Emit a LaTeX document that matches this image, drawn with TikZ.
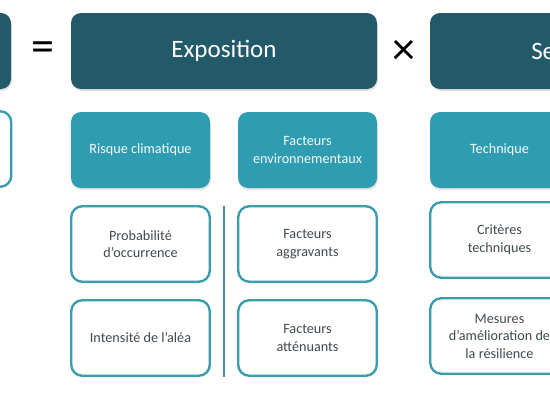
\documentclass[tikz,border=0pt]{standalone}
\usepackage{fontspec}
\setmainfont{Carlito}
\usetikzlibrary{shadows}
\definecolor{darkteal}{HTML}{235A69}
\definecolor{midteal}{HTML}{2E9DB1}
\definecolor{linecol}{HTML}{3A9DAE}
\definecolor{txtgray}{HTML}{3F4A4F}
\definecolor{sepcol}{HTML}{4A8E9A}
\tikzset{
  shad/.style={drop shadow={opacity=0.22, shadow xshift=0.8pt, shadow yshift=-2pt}},
  darkbox/.style={shad, fill=darkteal, rounded corners=10pt, text=white, minimum width=306pt, minimum height=76pt, inner sep=0pt, font=\fontsize{25}{28}\selectfont},
  tealbox/.style={shad, fill=midteal, rounded corners=10pt, text=white!95!midteal, minimum width=139pt, minimum height=76pt, inner sep=0pt, align=center, font=\fontsize{14.2}{18}\selectfont},
  outbox/.style={draw=linecol, line width=2.4pt, fill=white, rounded corners=11pt, text=txtgray, minimum width=138.5pt, minimum height=75.5pt, inner sep=0pt, align=center, font=\fontsize{14.2}{17.5}\selectfont},
  opsym/.style={font=\fontsize{46}{46}\selectfont, text=black, inner sep=0pt}
}
\begin{document}
\begin{tikzpicture}[x=1pt,y=-1pt]
\useasboundingbox (0,0) rectangle (550,400);
\clip (0,0) rectangle (550,400);
% top row
\node[darkbox] (risk) at (-142,51) {};
\node[opsym] (eq) at (43,52) {=};
\node[darkbox] (expo) at (224,51) {Exposition};
\node[opsym] (times) at (404,52) {×};
\node[darkbox] (sens) at (583,51) {Sensibilité};
% second row
\node[outbox] (leftout) at (-58,149) {};
\node[tealbox] (clim) at (140.5,150) {Risque climatique};
\node[tealbox] (envi) at (307.5,150) {Facteurs\\environnementaux};
\node[tealbox] (tech) at (499.5,150) {Technique};
% third row
\node[outbox] (prob) at (140.5,244) {Probabilité\\d’occurrence};
\node[outbox] (inten) at (140.5,338) {Intensité de l’aléa};
\node[outbox] (aggr) at (307.5,244) {Facteurs\\aggravants};
\node[outbox] (atten) at (307.5,338) {Facteurs\\atténuants};
\node[outbox] (crit) at (499.5,240) {Critères\\techniques};
\node[outbox] (mes) at (499.5,336) {Mesures\\d’amélioration de\\la résilience};
% separator
\coordinate (septop) at (224,206);
\coordinate (sepbot) at (224,377);
\draw[sepcol, line width=2pt] (septop) -- (sepbot);
\end{tikzpicture}
\end{document}
